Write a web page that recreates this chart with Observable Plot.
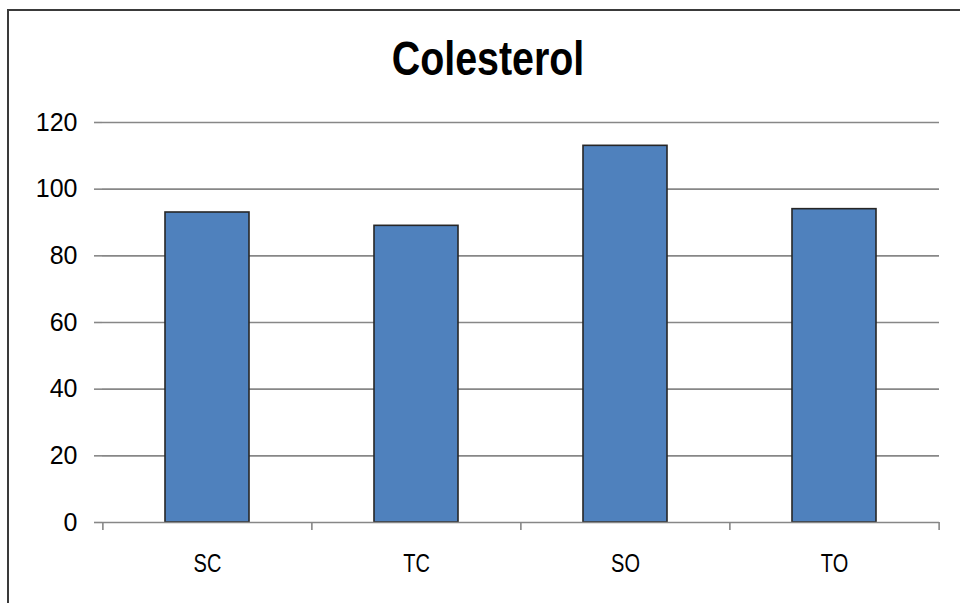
<!DOCTYPE html>
<html>
<head>
<meta charset="utf-8">
<script src="https://cdn.jsdelivr.net/npm/d3@7"></script>
<script src="https://cdn.jsdelivr.net/npm/@observablehq/plot@0.6"></script>
<style>
  html, body { margin: 0; padding: 0; background: #fff; }
  #wrap { position: relative; width: 960px; height: 603px; overflow: hidden; background: #fff; }
  #frame { position: absolute; left: 7px; top: 9px; width: 1000px; height: 700px;
           border-top: 2px solid #3a3a3a; border-left: 2px solid #3a3a3a; box-sizing: border-box; }
  #title { position: absolute; left: 8px; top: 35px; width: 960px; height: 48px; text-align: center;
           font-family: "Liberation Sans", Arial, sans-serif; font-weight: bold; font-size: 48px;
           line-height: 48px; color: #000; transform: scaleX(0.82); transform-origin: 50% 50%; white-space: nowrap; }
  #chart { position: absolute; left: 0; top: 100px; }
</style>
</head>
<body>
<div id="wrap">
  <div id="frame"></div>
  <div id="title">Colesterol</div>
  <div id="chart"></div>
</div>
<script>
const categories = ["SC", "TC", "SO", "TO"];
const values = [93, 89, 113, 94];
const yTicks = [0, 20, 40, 60, 80, 100, 120];

const data = categories.map((c, i) => ({cat: c, value: values[i]}));

const W = 960, H = 503;
const mL = 102, mR = 21, mT = 22, mB = 81;
const step = (W - mL - mR) / (categories.length - 0.6 + 0.6);
const font = '"Liberation Sans", Arial, sans-serif';
const gray = "#878787";

const chart = Plot.plot({
  width: W,
  height: H,
  marginLeft: mL,
  marginRight: mR,
  marginTop: mT,
  marginBottom: mB,
  style: {fontFamily: font, fontSize: "25px", color: "#000", background: "transparent", overflow: "visible"},
  x: {domain: categories, paddingInner: 0.6, paddingOuter: 0.3, label: null},
  y: {domain: [0, 120], ticks: yTicks, label: null},
  marks: [
    Plot.gridY(yTicks.filter(t => t > 0), {stroke: gray, strokeOpacity: 1, strokeWidth: 1.6}),
    Plot.barY(data, {x: "cat", y: "value", fill: "#4F81BD", stroke: "#262626", strokeWidth: 1.6}),
    Plot.ruleY([0], {stroke: gray, strokeWidth: 1.6}),
    Plot.ruleX(data, {x: "cat", y1: 0, y2: 0, dx: -step / 2, insetBottom: -8, stroke: gray, strokeWidth: 1.6}),
    Plot.ruleX(data.slice(-1), {x: "cat", y1: 0, y2: 0, dx: step / 2, insetBottom: -8, stroke: gray, strokeWidth: 1.6}),
    Plot.axisY(yTicks, {line: true, stroke: gray, strokeWidth: 1.6, tickSize: 8, tickPadding: 17, fill: "#000", fontSize: 25, label: null}),
    Plot.axisX({tickSize: 0, tickPadding: 32, fill: "#000", fontSize: 25, label: null})
  ]
});
// condensed look for the category labels
chart.querySelectorAll('g[aria-label="x-axis tick label"]').forEach(g => {
  g.setAttribute("font-size", "25");
  g.style.fontSize = "25px";
  g.querySelectorAll("text").forEach(t => {
    t.style.fontSize = "25px";
    const tr = t.getAttribute("transform") || "";
    t.setAttribute("transform", tr + " scale(0.8,1)");
  });
});
document.getElementById("chart").appendChild(chart);
</script>
</body>
</html>
